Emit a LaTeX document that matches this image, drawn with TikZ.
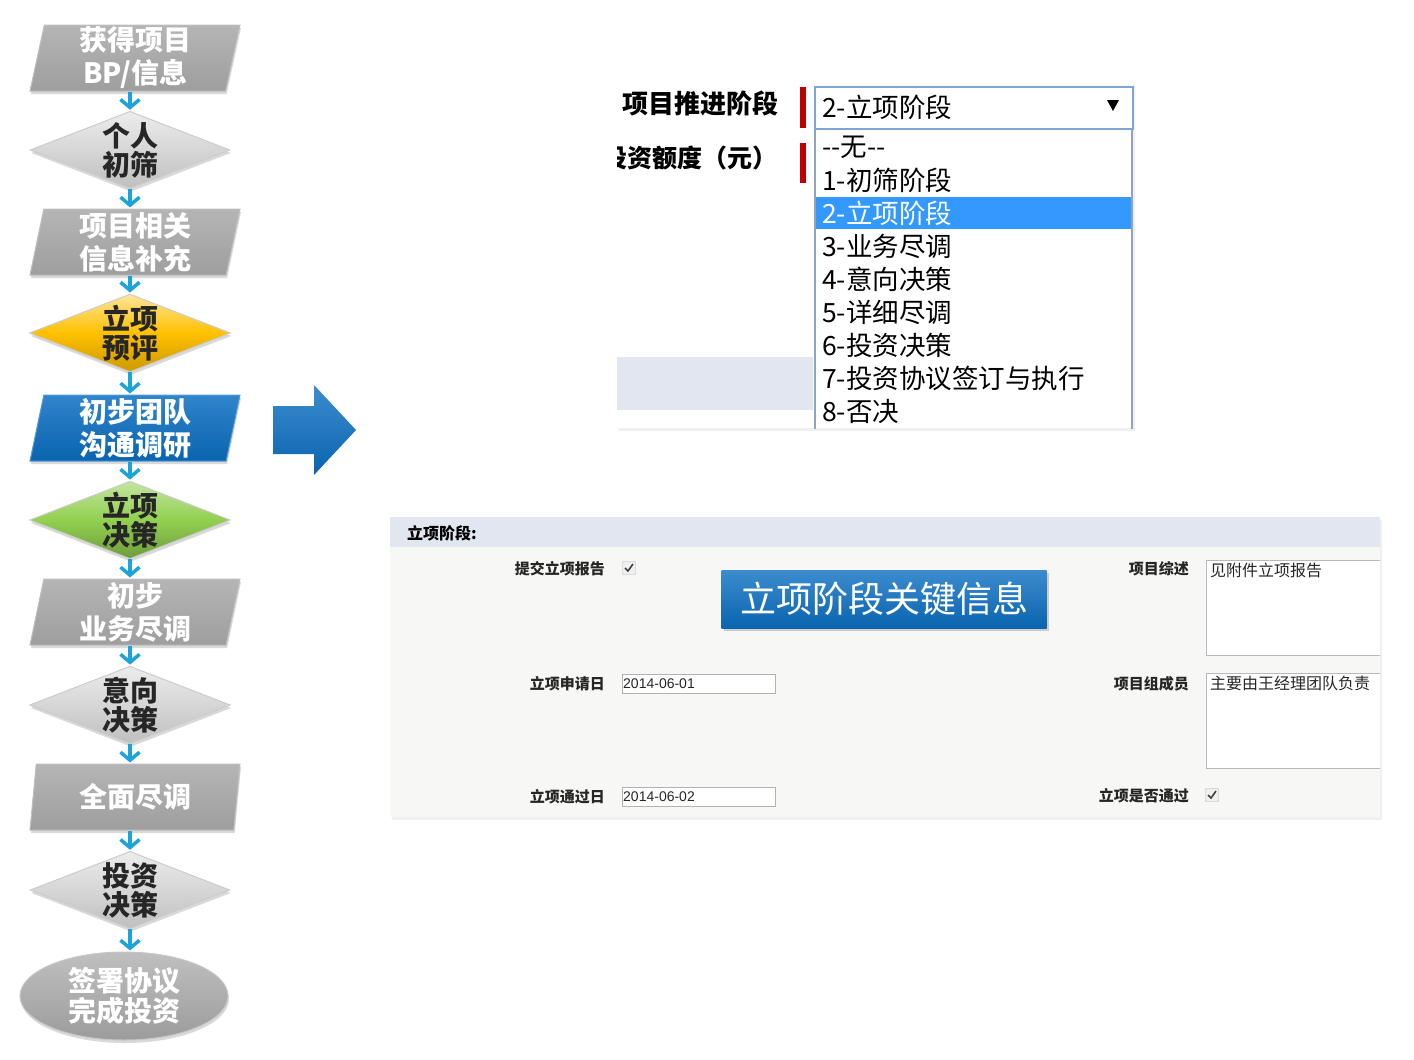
\documentclass[tikz,border=0pt]{standalone}
\usepackage{fontspec}
\newfontfamily\cjk{Noto Sans CJK SC}
\newfontfamily\arial{Liberation Sans}
\usetikzlibrary{shapes.geometric, arrows.meta, shadows, positioning}

\definecolor{flowcyan}{HTML}{1BA3DA}
\definecolor{stepblue}{HTML}{0B6FC2}
\definecolor{gold}{HTML}{FFC000}
\definecolor{leaf}{HTML}{92D050}
\definecolor{selborder}{HTML}{7EA5D6}
\definecolor{listborder}{HTML}{8FA4C0}
\definecolor{pick}{HTML}{3399FF}
\definecolor{band}{HTML}{E1E6F0}
\definecolor{formbg}{HTML}{F7F7F5}
\definecolor{redbar}{HTML}{C00000}

\begin{document}
\begin{tikzpicture}[x=1pt, y=-1pt,
    every node/.style={font=\cjk},
    para/.style={trapezium, trapezium left angle=77, trapezium right angle=103,
        trapezium stretches body=true, minimum width=210pt, minimum height=66pt,
        inner sep=0pt, draw=gray!50, line width=1pt, top color=gray!58, bottom color=gray!76,
        text=white, align=center, font=\cjk\bfseries\fontsize{28}{33}\selectfont,
        drop shadow={opacity=0.3, shadow xshift=1pt, shadow yshift=-3pt}},
    decide/.style={diamond, shape aspect=2.58, minimum width=196pt, minimum height=76pt, inner sep=0pt,
        draw=gray!40, line width=1pt, top color=gray!15, bottom color=gray!50, middle color=gray!32,
        text=black!85, align=center, font=\cjk\bfseries\fontsize{28}{29}\selectfont,
        drop shadow={opacity=0.3, shadow xshift=1pt, shadow yshift=-3pt}},
    finish/.style={ellipse, minimum width=208pt, minimum height=88pt, inner sep=0pt,
        draw=gray!45, line width=1pt, top color=gray!50, bottom color=gray!78,
        text=white, align=center, font=\cjk\bfseries\fontsize{28}{30}\selectfont,
        drop shadow={opacity=0.3, shadow xshift=1pt, shadow yshift=-3pt}},
    flowline/.style={draw=flowcyan, line width=3.5pt, shorten >=1pt,
        -{Straight Barb[length=8pt,width=19pt,line width=3.5pt]}},
    option/.style={anchor=west, inner sep=0pt, font=\cjk\fontsize{26.5}{28}\selectfont},
    formlabel/.style={anchor=east, inner sep=0pt, text=black!85, font=\cjk\bfseries\fontsize{15}{17}\selectfont},
    checkbox/.style={draw=gray!60, fill=gray!12, minimum size=13pt, inner sep=0pt, rounded corners=1pt},
    checkmark/.style={draw=black!75, line width=1.6pt},
    inputbox/.style={draw=gray!60, fill=white, anchor=north west, minimum height=19pt, text width=151pt,
        inner sep=1pt, align=left, text=black!85, font=\arial\fontsize{14}{16}\selectfont},
    textarea/.style={draw=gray!55, line width=1pt, fill=white, anchor=north west, minimum width=190pt, minimum height=95pt, inner sep=0pt},
    areatext/.style={anchor=north west, inner sep=0pt, text=black!85, font=\cjk\fontsize{16}{18}\selectfont},
    keytitle/.style={minimum width=325pt, minimum height=58pt, inner sep=0pt, top color=stepblue!80!white, bottom color=stepblue!90!black,
        text=white, font=\cjk\fontsize{36}{40}\selectfont,
        drop shadow={opacity=0.35, shadow xshift=2pt, shadow yshift=-3pt}}
]
\useasboundingbox (0,0) rectangle (1414,1060);

% flow of stages
\coordinate (spine) at (130,0);
\node[para] (p1) at (135,58) {获得项目\\BP/信息};
\node[decide] (d1) at (130,150) {个人\\初筛};
\node[para] (p2) at (135,242) {项目相关\\信息补充};
\node[decide, top color=gold!40!white, bottom color=gold!80!black, middle color=gold] (d2) at (130,333) {立项\\预评};
\node[para, top color=stepblue!85!white, bottom color=stepblue!90!black, draw=stepblue!70] (p3) at (135,428) {初步团队\\沟通调研};
\node[decide, top color=leaf!55!white, bottom color=leaf!75!black, middle color=leaf] (d3) at (130,520) {立项\\决策};
\node[para] (p4) at (135,612) {初步\\业务尽调};
\node[decide] (d4) at (130,705) {意向\\决策};
\node[para] (p5) at (135,797) {全面尽调};
\node[decide] (d5) at (130,890) {投资\\决策};
\node[finish] (e1) at (124,996) {签署协议\\完成投资};

\foreach \a/\b in {p1/d1, d1/p2, p2/d2, d2/p3, p3/d3, d3/p4, p4/d4, d4/p5, p5/d5, d5/e1}
    \draw[flowline] (\a.south -| spine) -- (\b.north -| spine);

% big arrow
\path[top color=stepblue!80!white, bottom color=stepblue!90!black]
    (273,406) -- (314,406) -- (314,385) -- (356,430) -- (314,475) -- (314,454) -- (273,454) -- cycle;

% stage selector
\fill[white, drop shadow={opacity=0.12, shadow xshift=2pt, shadow yshift=-3pt}] (617,80) rectangle (1133,428);
\fill[band] (617,357) rectangle (813,410);
\begin{scope}
    \clip (617,80) rectangle (1133,428);
    \node[anchor=east, inner sep=0pt, font=\cjk\bfseries\fontsize{25}{27}\selectfont] (amount) at (778,158) {投资额度（元）};
    \draw[listborder, line width=1.5pt] (815,128) -- (815,440);
    \draw[listborder, line width=1.5pt] (1132,128) -- (1132,440);
\end{scope}
\node[anchor=west, inner sep=0pt, font=\cjk\bfseries\fontsize{26}{28}\selectfont] (stage) at (622,103) {项目推进阶段};
\fill[redbar] (800,87) rectangle (806,128);
\fill[redbar] (800,143) rectangle (806,183);
\node[draw=selborder, line width=2pt, fill=white, anchor=north west, minimum width=318pt, minimum height=42pt, inner sep=0pt] (select) at (814,86) {};
\node[option] (current) at (822,107) {2-立项阶段};
\fill[black] (1107,100) -- (1119,100) -- (1113,111) -- cycle;
\fill[pick] (816,197) rectangle (1131,229);
\foreach \opt/\col [count=\i from 0] in {-{}-无-{}-/black, 1-初筛阶段/black, 2-立项阶段/white, 3-业务尽调/black,
        4-意向决策/black, 5-详细尽调/black, 6-投资决策/black, 7-投资协议签订与执行/black, 8-否决/black}
    \node[option, text=\col] (opt\i) at (822,147+33*\i) {\opt};

% stage form
\fill[formbg, drop shadow={opacity=0.12, shadow xshift=2pt, shadow yshift=-3pt}] (390,517) rectangle (1380,817);
\fill[band] (390,517) rectangle (1380,547);
\node[anchor=west, inner sep=0pt, font=\cjk\bfseries\fontsize{16}{18}\selectfont] (formhead) at (407,533) {立项阶段:};

\begin{scope}
    \clip (390,517) rectangle (1380,817);
    \node[formlabel] (reportlbl) at (605,569) {提交立项报告};
    \node[checkbox] (reportbox) at (629,568) {};
    \draw[checkmark] ([shift={(-4,0)}]reportbox.center) -- ([shift={(-1,3)}]reportbox.center) -- ([shift={(4,-4)}]reportbox.center);
    \node[formlabel] (applylbl) at (605,684) {立项申请日};
    \node[inputbox] (applydate) at (622,674) {2014-06-01};
    \node[formlabel] (passlbl) at (605,797) {立项通过日};
    \node[inputbox] (passdate) at (622,787) {2014-06-02};

    \node[formlabel] (summarylbl) at (1189,569) {项目综述};
    \node[textarea] (summary) at (1206,560) {};
    \node[areatext] at ([shift={(4,3)}]summary.north west) {见附件立项报告};
    \node[formlabel] (memberlbl) at (1189,684) {项目组成员};
    \node[textarea] (members) at (1206,673) {};
    \node[areatext] at ([shift={(4,3)}]members.north west) {主要由王经理团队负责};
    \node[formlabel] (approvelbl) at (1189,796) {立项是否通过};
    \node[checkbox] (approvebox) at (1212,795) {};
    \draw[checkmark] ([shift={(-4,0)}]approvebox.center) -- ([shift={(-1,3)}]approvebox.center) -- ([shift={(4,-4)}]approvebox.center);
\end{scope}

\node[keytitle] (keyinfo) at (884,599) {立项阶段关键信息};
\end{tikzpicture}
\end{document}
